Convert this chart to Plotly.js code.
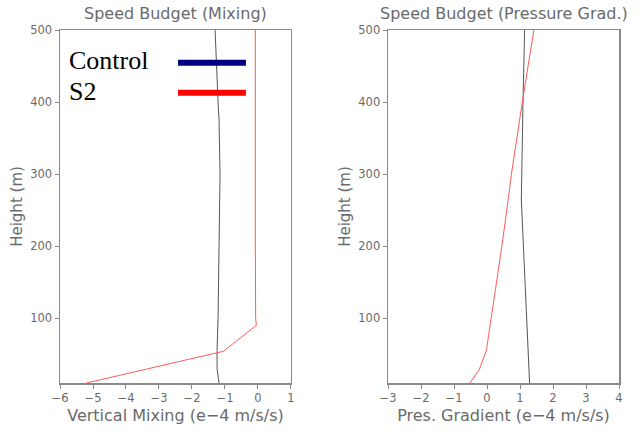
<!DOCTYPE html>
<html>
<head>
<meta charset="utf-8">
<script src="https://cdn.plot.ly/plotly-3.0.1.min.js"></script>
<style>html,body{margin:0;padding:0;background:#fff;}#chart{width:643px;height:430px;}</style>
</head>
<body>
<div id="chart"></div>
<script>
// Left panel: Vertical mixing (e-4 m/s/s) vs height (m)
const mixCtlHeight = [10, 30, 55, 100, 200, 300, 375, 400, 500];
const mixCtl       = [-1.18, -1.24, -1.24, -1.21, -1.18, -1.15, -1.18, -1.21, -1.30];
const mixS2Height  = [10, 54, 90, 100, 200, 300, 400, 500];
const mixS2        = [-5.2, -1.05, -0.05, -0.07, -0.08, -0.08, -0.08, -0.08];

// Right panel: Pressure gradient (e-4 m/s/s) vs height (m)
const pgCtlHeight = [10, 100, 200, 264, 400, 500];
const pgCtl       = [1.29, 1.20, 1.10, 1.04, 1.09, 1.14];
const pgS2Height  = [10, 28, 55, 100, 114, 200, 264, 300, 400, 500];
const pgS2        = [-0.52, -0.24, -0.02, 0.13, 0.18, 0.45, 0.64, 0.74, 1.07, 1.42];

const seriesNames = ["Control", "S2"];
const panelTitles = ["Speed Budget (Mixing)", "Speed Budget (Pressure Grad.)"];
const xTitles = ["Vertical Mixing (e\u22124 m/s/s)", "Pres. Gradient (e\u22124 m/s/s)"];
const yTitle = "Height (m)";

const gray = "#555555", red = "#ff5a5a";
const axisCol = "#8a8a8a", textCol = "#6a6a6a";
const font = "DejaVu Sans, sans-serif";

const traces = [
  {x: mixCtl, y: mixCtlHeight, xaxis: "x", yaxis: "y", mode: "lines", line: {color: gray, width: 1}, name: seriesNames[0]},
  {x: mixS2, y: mixS2Height, xaxis: "x", yaxis: "y", mode: "lines", line: {color: red, width: 1}, name: seriesNames[1]},
  {x: pgCtl, y: pgCtlHeight, xaxis: "x2", yaxis: "y2", mode: "lines", line: {color: gray, width: 1}, name: seriesNames[0]},
  {x: pgS2, y: pgS2Height, xaxis: "x2", yaxis: "y2", mode: "lines", line: {color: red, width: 1}, name: seriesNames[1]}
];

function xa(domain, range, anchor, title) {
  return {domain: domain, range: range, anchor: anchor, dtick: 1, tick0: 0,
    showline: true, mirror: true, linecolor: axisCol, linewidth: 1.5,
    ticks: "outside", ticklen: 4, tickcolor: axisCol, tickwidth: 1,
    showgrid: false, zeroline: false,
    tickfont: {family: font, size: 11.5, color: textCol},
    title: {text: title, font: {family: font, size: 16, color: textCol}, standoff: 5}};
}
function ya(anchor) {
  return {domain: [0, 1], range: [10, 500], anchor: anchor, dtick: 100, tick0: 0,
    showline: true, mirror: true, linecolor: axisCol, linewidth: 1.5,
    ticks: "outside", ticklen: 4, tickcolor: axisCol, tickwidth: 1,
    showgrid: false, zeroline: false,
    tickfont: {family: font, size: 11.5, color: textCol},
    title: {text: yTitle, font: {family: font, size: 15, color: textCol}, standoff: 4}};
}

const layout = {
  width: 643, height: 430,
  margin: {l: 60, r: 24, t: 30, b: 47},
  paper_bgcolor: "#fff", plot_bgcolor: "#fff",
  showlegend: false,
  xaxis: xa([0, 0.4132], [-6, 1], "y", xTitles[0]),
  yaxis: ya("x"),
  xaxis2: xa([0.5868, 1], [-3, 4], "y2", xTitles[1]),
  yaxis2: ya("x2"),
  annotations: [
    {text: panelTitles[0], xref: "x domain", yref: "paper", x: 0.5, y: 1, yshift: 17, xanchor: "center", yanchor: "middle", showarrow: false, font: {family: font, size: 16, color: textCol}},
    {text: panelTitles[1], xref: "x2 domain", yref: "paper", x: 0.5, y: 1, yshift: 17, xanchor: "center", yanchor: "middle", showarrow: false, font: {family: font, size: 16, color: textCol}},
    {text: seriesNames[0], xref: "x domain", yref: "y domain", x: 0.03, y: 0.915, xanchor: "left", yanchor: "middle", showarrow: false, font: {family: "Liberation Serif, Times New Roman, serif", size: 26, color: "#000"}},
    {text: seriesNames[1], xref: "x domain", yref: "y domain", x: 0.03, y: 0.825, xanchor: "left", yanchor: "middle", showarrow: false, font: {family: "Liberation Serif, Times New Roman, serif", size: 26, color: "#000"}}
  ],
  shapes: [
    {type: "line", xref: "x domain", yref: "y domain", x0: 0.511, x1: 0.805, y0: 0.907, y1: 0.907, line: {color: "#000080", width: 6}},
    {type: "line", xref: "x domain", yref: "y domain", x0: 0.511, x1: 0.805, y0: 0.822, y1: 0.822, line: {color: "#ff0000", width: 6}}
  ]
};

Plotly.newPlot("chart", traces, layout, {displayModeBar: false, staticPlot: true});
</script>
</body>
</html>
